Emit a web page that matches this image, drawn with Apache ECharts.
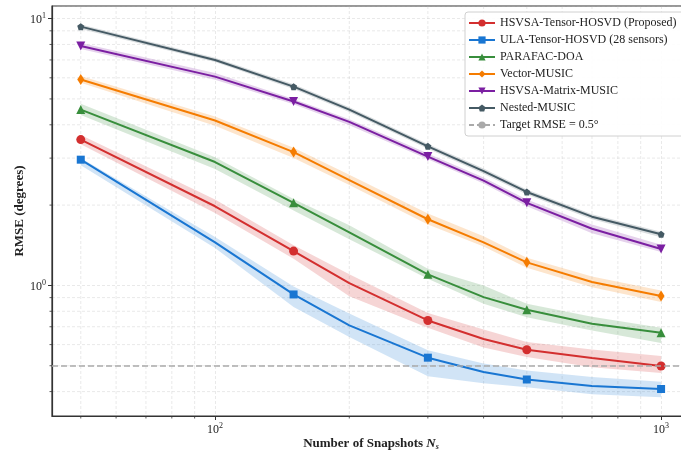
<!DOCTYPE html>
<html>
<head>
<meta charset="utf-8">
<script src="https://cdn.jsdelivr.net/npm/echarts@6/dist/echarts.min.js"></script>
<style>
html, body { margin: 0; padding: 0; background: #fff; overflow: hidden; }
#chart { width: 690px; height: 454px; }
</style>
</head>
<body>
<div id="chart"></div>
<script>
// 快照数
var snapshots = [50, 100, 150, 200, 300, 400, 500, 700, 1000];

// RMSE 均值及置信带
var tensorHosvd   = [3.52, 1.98, 1.345, 1.02, 0.739, 0.63, 0.574, 0.534, 0.499];
var tensorHosvdLo = [3.38, 1.87, 1.26, 0.91, 0.694, 0.585, 0.539, 0.494, 0.47];
var tensorHosvdHi = [3.66, 2.10, 1.415, 1.10, 0.788, 0.683, 0.613, 0.575, 0.544];

var ulaHosvd   = [2.96, 1.45, 0.925, 0.708, 0.536, 0.474, 0.444, 0.42, 0.409];
var ulaHosvdLo = [2.82, 1.38, 0.83, 0.64, 0.457, 0.43, 0.415, 0.391, 0.381];
var ulaHosvdHi = [3.00, 1.52, 0.99, 0.785, 0.572, 0.51, 0.48, 0.454, 0.435];

var parafac   = [4.56, 2.90, 2.04, 1.58, 1.10, 0.904, 0.811, 0.718, 0.665];
var parafacLo = [4.35, 2.73, 1.91, 1.49, 1.06, 0.854, 0.76, 0.678, 0.608];
var parafacHi = [4.80, 3.02, 2.11, 1.68, 1.155, 1.0, 0.854, 0.763, 0.694];

var vectorMusic   = [5.91, 4.15, 3.16, 2.48, 1.77, 1.45, 1.22, 1.03, 0.912];
var vectorMusicLo = [5.75, 3.97, 3.00, 2.38, 1.69, 1.40, 1.165, 0.985, 0.866];
var vectorMusicHi = [6.10, 4.30, 3.28, 2.60, 1.86, 1.53, 1.27, 1.08, 0.958];

var matrixMusic   = [7.9, 6.06, 4.89, 4.1, 3.04, 2.47, 2.04, 1.63, 1.37];
var matrixMusicLo = [7.7, 5.9, 4.78, 3.98, 2.97, 2.41, 1.98, 1.57, 1.335];
var matrixMusicHi = [8.1, 6.25, 5.0, 4.2, 3.12, 2.54, 2.1, 1.69, 1.42];

var nestedMusic   = [9.33, 7.0, 5.56, 4.56, 3.32, 2.68, 2.24, 1.81, 1.555];
var nestedMusicLo = [9.15, 6.87, 5.45, 4.47, 3.25, 2.62, 2.19, 1.77, 1.515];
var nestedMusicHi = [9.5, 7.13, 5.67, 4.65, 3.39, 2.74, 2.29, 1.85, 1.59];

var targetRmse = 0.5;

// 次刻度
var xMinorTicks = [50, 60, 70, 80, 90, 200, 300, 400, 500, 600, 700, 800, 900];
var yMinorTicks = [0.4, 0.5, 0.6, 0.7, 0.8, 0.9, 2, 3, 4, 5, 6, 7, 8, 9];

var serif = 'Liberation Serif';
var pentagon = 'path://M0,-10L9.51,-3.09L5.88,8.09L-5.88,8.09L-9.51,-3.09Z';

var methods = [
	{name: 'HSVSA-Tensor-HOSVD (Proposed)', color: '#d32f2f', mean: tensorHosvd, lo: tensorHosvdLo, hi: tensorHosvdHi, symbol: 'circle', size: 9, rotate: 0},
	{name: 'ULA-Tensor-HOSVD (28 sensors)', color: '#1976d2', mean: ulaHosvd, lo: ulaHosvdLo, hi: ulaHosvdHi, symbol: 'rect', size: 8, rotate: 0},
	{name: 'PARAFAC-DOA', color: '#388e3c', mean: parafac, lo: parafacLo, hi: parafacHi, symbol: 'triangle', size: 9, rotate: 0},
	{name: 'Vector-MUSIC', color: '#f57c00', mean: vectorMusic, lo: vectorMusicLo, hi: vectorMusicHi, symbol: 'diamond', size: [7, 11], rotate: 0},
	{name: 'HSVSA-Matrix-MUSIC', color: '#7b1fa2', mean: matrixMusic, lo: matrixMusicLo, hi: matrixMusicHi, symbol: 'triangle', size: 9, rotate: 180},
	{name: 'Nested-MUSIC', color: '#455a64', mean: nestedMusic, lo: nestedMusicLo, hi: nestedMusicHi, symbol: pentagon, size: 7, rotate: 0}
];

var gridColor = 'rgba(176,176,176,0.35)';

function powLabel(v) {
	var e = Math.log(v) / Math.LN10;
	if (Math.abs(e - Math.round(e)) > 1e-6) return '';
	return '{b|10}{s|' + Math.round(e) + '}';
}

var series = [];

// 次网格线及次刻度
series.push({
	type: 'custom',
	silent: true,
	clip: false,
	z: 0,
	data: xMinorTicks.map(function (v) { return [v, 1]; }),
	encode: {x: 0, y: 1},
	renderItem: function (params, api) {
		var cs = params.coordSys;
		var x = api.coord([api.value(0), 1])[0];
		return {type: 'group', children: [
			{type: 'line', shape: {x1: x, y1: cs.y, x2: x, y2: cs.y + cs.height},
				style: {stroke: gridColor, lineWidth: 0.8, lineDash: [3, 2]}},
			{type: 'line', shape: {x1: x, y1: cs.y + cs.height, x2: x, y2: cs.y + cs.height + 2.5},
				style: {stroke: '#333', lineWidth: 0.8}}
		]};
	}
});
series.push({
	type: 'custom',
	silent: true,
	clip: false,
	z: 0,
	data: yMinorTicks.map(function (v) { return [100, v]; }),
	encode: {x: 0, y: 1},
	renderItem: function (params, api) {
		var cs = params.coordSys;
		var y = api.coord([100, api.value(1)])[1];
		return {type: 'group', children: [
			{type: 'line', shape: {x1: cs.x, y1: y, x2: cs.x + cs.width, y2: y},
				style: {stroke: gridColor, lineWidth: 0.8, lineDash: [3, 2]}},
			{type: 'line', shape: {x1: cs.x - 2.5, y1: y, x2: cs.x, y2: y},
				style: {stroke: '#333', lineWidth: 0.8}}
		]};
	}
});

// 置信带
methods.forEach(function (m) {
	series.push({
		type: 'custom',
		silent: true,
		z: 1,
		data: snapshots.map(function (x, i) { return [x, m.lo[i], m.hi[i]]; }),
		encode: {x: 0, y: [1, 2]},
		renderItem: function (params, api) {
			if (params.dataIndex !== 0) return;
			var pts = [];
			snapshots.forEach(function (x, i) { pts.push(api.coord([x, m.hi[i]])); });
			for (var i = snapshots.length - 1; i >= 0; i--) pts.push(api.coord([snapshots[i], m.lo[i]]));
			return {type: 'polygon', shape: {points: pts},
				style: {fill: m.color, opacity: 0.2, stroke: 'none'}};
		}
	});
});

// 曲线
methods.forEach(function (m) {
	series.push({
		name: m.name,
		type: 'line',
		z: 3,
		color: m.color,
		symbol: m.symbol,
		symbolSize: m.size,
		symbolRotate: m.rotate,
		showSymbol: true,
		lineStyle: {width: 2, color: m.color},
		itemStyle: {color: m.color},
		data: snapshots.map(function (x, i) {
			return {value: [x, m.mean[i]], symbol: i % 2 === 0 ? m.symbol : 'none'};
		})
	});
});

// 目标线
series.push({
	name: 'Target RMSE = 0.5°',
	type: 'line',
	z: 2,
	color: '#aaaaaa',
	symbol: 'none',
	lineStyle: {type: [5, 3], color: '#aaaaaa', width: 1.5},
	itemStyle: {color: '#aaaaaa'},
	data: [],
	markLine: {
		silent: true,
		symbol: 'none',
		label: {show: false},
		lineStyle: {type: [6, 3], color: '#aaaaaa', width: 1.5},
		data: [{yAxis: targetRmse}]
	}
});

var option = {
	animation: false,
	backgroundColor: '#fff',
	textStyle: {fontFamily: serif},
	grid: {
		left: 52, right: 0, top: 6, bottom: 38,
		show: true, borderColor: '#333', borderWidth: 1.2,
		containLabel: false,
		outerBoundsMode: 'none'
	},
	legend: {
		orient: 'vertical',
		left: 465, top: 12,
		padding: [5, 8, 5, 3],
		itemWidth: 26, itemHeight: 9, itemGap: 5,
		backgroundColor: 'rgba(255,255,255,0.9)',
		borderColor: '#d0d0d0', borderWidth: 1, borderRadius: 3,
		textStyle: {fontFamily: serif, fontSize: 12, color: '#222'},
		data: methods.map(function (m) { return m.name; }).concat(['Target RMSE = 0.5°'])
	},
	xAxis: {
		type: 'log',
		logBase: 10,
		min: 43.1, max: 1161,
		name: 'Number of Snapshots {i|N}{sub|s}',
		nameLocation: 'middle',
		nameGap: 21,
		nameMoveOverlap: false,
		nameTextStyle: {
			fontFamily: serif, fontSize: 13, fontWeight: 'bold', color: '#222',
			rich: {
				i: {fontFamily: serif, fontSize: 13, fontStyle: 'italic', fontWeight: 'bold', color: '#222'},
				sub: {fontFamily: serif, fontSize: 8, fontStyle: 'italic', color: '#222', verticalAlign: 'bottom', padding: [6, 0, 0, 0]}
			}
		},
		axisLine: {show: true, lineStyle: {color: '#333', width: 1.2}},
		axisTick: {show: true, inside: false, length: 4, lineStyle: {color: '#333'}},
		axisLabel: {
			margin: 6,
			showMinLabel: false, showMaxLabel: false,
			formatter: powLabel,
			rich: {
				b: {fontFamily: serif, fontSize: 12, color: '#222', verticalAlign: 'bottom', lineHeight: 14},
				s: {fontFamily: serif, fontSize: 8, color: '#222', verticalAlign: 'top', lineHeight: 14, padding: [0, 0, 7, 0]}
			}
		},
		splitLine: {show: true, lineStyle: {color: gridColor, type: [3, 2], width: 0.8}}
	},
	yAxis: {
		type: 'log',
		logBase: 10,
		min: 0.324, max: 11.15,
		name: 'RMSE (degrees)',
		nameLocation: 'middle',
		nameGap: 26,
		nameMoveOverlap: false,
		nameTextStyle: {fontFamily: serif, fontSize: 13, fontWeight: 'bold', color: '#222'},
		axisLine: {show: true, lineStyle: {color: '#333', width: 1.2}},
		axisTick: {show: true, inside: false, length: 4, lineStyle: {color: '#333'}},
		axisLabel: {
			margin: 6,
			showMinLabel: false, showMaxLabel: false,
			formatter: powLabel,
			rich: {
				b: {fontFamily: serif, fontSize: 12, color: '#222', verticalAlign: 'bottom', lineHeight: 14},
				s: {fontFamily: serif, fontSize: 8, color: '#222', verticalAlign: 'top', lineHeight: 14, padding: [0, 0, 7, 0]}
			}
		},
		splitLine: {show: true, lineStyle: {color: gridColor, type: [3, 2], width: 0.8}}
	},
	series: series
};

var myChart = echarts.init(document.getElementById('chart'), null, {renderer: 'canvas'});
myChart.setOption(option);
</script>
</body>
</html>
